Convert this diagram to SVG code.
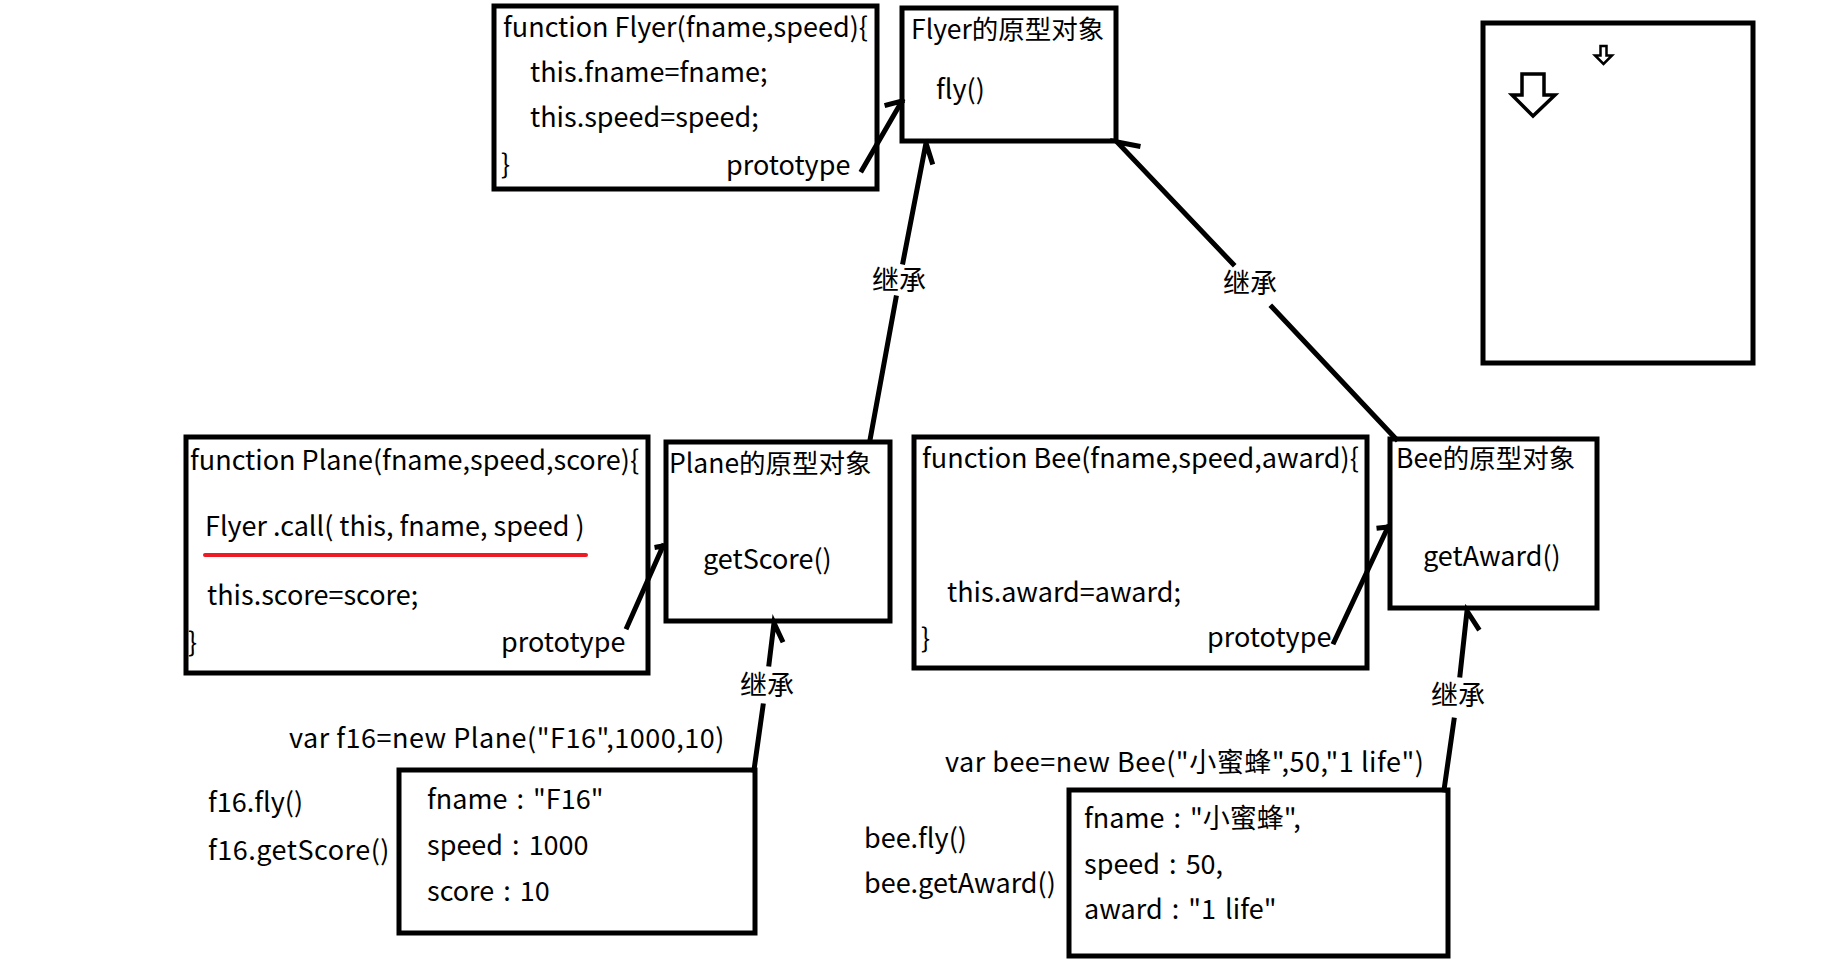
<svg xmlns="http://www.w3.org/2000/svg" width="1844" height="974" viewBox="0 0 1844 974">
<style>
.box{fill:#fff;stroke:#000;stroke-width:5}
.t{font-family:"Noto Sans CJK SC","Microsoft YaHei",sans-serif;font-size:27px;fill:#000}
.w{letter-spacing:0.5px}
.o{word-spacing:3px}
.h{font-family:"Noto Sans CJK SC","Microsoft YaHei",sans-serif;font-size:26.5px;fill:#000}
.c{fill:none;stroke:#000;stroke-width:5;stroke-linecap:square}
.lbl{font-family:"Noto Sans CJK SC","Microsoft YaHei",sans-serif;font-size:27px;fill:#000;text-anchor:middle}
</style>
<rect width="1844" height="974" fill="#fff"/>

<g id="flyer-fn">
<rect class="box" x="494" y="6" width="383" height="183"/>
<text class="t" x="503" y="37">function Flyer(fname,speed){</text>
<text class="t" x="530" y="82">this.fname=fname;</text>
<text class="t" x="530" y="127">this.speed=speed;</text>
<text class="t" x="501" y="174">}</text>
<text class="t" x="726" y="175">prototype</text>
</g>

<g id="flyer-proto">
<rect class="box" x="902" y="8" width="214" height="133"/>
<text class="h" x="911" y="39">Flyer的原型对象</text>
<text class="t" x="936" y="99">fly()</text>
</g>

<g id="plane-fn">
<rect class="box" x="186" y="437" width="462" height="236"/>
<text class="t" x="190" y="470">function Plane(fname,speed,score){</text>
<text class="t" x="205" y="536">Flyer .call( this, fname, speed )</text>
<line x1="205" y1="555" x2="586" y2="555" stroke="#ed1c24" stroke-width="4" stroke-linecap="round"/>
<text class="t" x="207" y="605">this.score=score;</text>
<text class="t" x="188" y="652">}</text>
<text class="t" x="501" y="652">prototype</text>
</g>

<g id="plane-proto">
<rect class="box" x="666" y="442" width="224" height="179"/>
<text class="h" x="669" y="473">Plane的原型对象</text>
<text class="t" x="703" y="569">getScore()</text>
</g>

<g id="bee-fn">
<rect class="box" x="914" y="437" width="453" height="231"/>
<text class="t" x="922" y="468">function Bee(fname,speed,award){</text>
<text class="t" x="947" y="602">this.award=award;</text>
<text class="t" x="921" y="648">}</text>
<text class="t" x="1207" y="647">prototype</text>
</g>

<g id="bee-proto">
<rect class="box" x="1390" y="439" width="207" height="169"/>
<text class="h" x="1396" y="468">Bee的原型对象</text>
<text class="t" x="1423" y="566">getAward()</text>
</g>

<g id="f16">
<text class="t w" x="289" y="748">var f16=new Plane("F16",1000,10)</text>
<rect class="box" x="399" y="770" width="356" height="163"/>
<text class="t o" x="427" y="809">fname : "F16"</text>
<text class="t o" x="427" y="855">speed : 1000</text>
<text class="t o" x="427" y="901">score : 10</text>
<text class="t" x="208" y="812">f16.fly()</text>
<text class="t w" x="208" y="860">f16.getScore()</text>
</g>

<g id="bee">
<text class="t w" x="945" y="772">var bee=new Bee("小蜜蜂",50,"1 life")</text>
<rect class="box" x="1069" y="790" width="379" height="166"/>
<text class="t o" x="1084" y="828">fname : "小蜜蜂",</text>
<text class="t o" x="1084" y="874">speed : 50,</text>
<text class="t o" x="1084" y="919">award : "1 life"</text>
<text class="t" x="864" y="848">bee.fly()</text>
<text class="t" x="864" y="893">bee.getAward()</text>
</g>

<g id="side-panel">
<rect class="box" x="1483" y="23" width="270" height="340"/>
<path d="M1522,74 L1544,74 L1544,95 L1555,95 L1533,116 L1512,95 L1522,95 Z" fill="#fff" stroke="#000" stroke-width="3.5" stroke-linejoin="miter"/>
<path d="M1600.5,46 L1606.5,46 L1606.5,55.5 L1612,55.5 L1603.5,64 L1595,55.5 L1600.5,55.5 Z" fill="#fff" stroke="#000" stroke-width="2.5"/>
</g>

<g id="connectors">
<path class="c" d="M862,170 L902,101 M887,105 L902,101"/>
<path class="c" d="M627,627 L663,546 M657,547 L663,546"/>
<path class="c" d="M1334,642 L1388,527 M1379,528 L1388,527"/>
<path class="c" d="M870,440 L896,298 M903,262 L926,143 L932,162"/>
<text class="lbl" x="899" y="290">继承</text>
<path class="c" d="M1396,439 L1272,307 M1233,264 L1117,142 L1138,146"/>
<text class="lbl" x="1250" y="293">继承</text>
<path class="c" d="M754,770 L763,706 M769,664 L774,623 L782,640"/>
<text class="lbl" x="767" y="695">继承</text>
<path class="c" d="M1444,790 L1454,720 M1460,675 L1467,611 L1478,628"/>
<text class="lbl" x="1458" y="705">继承</text>
</g>
</svg>
